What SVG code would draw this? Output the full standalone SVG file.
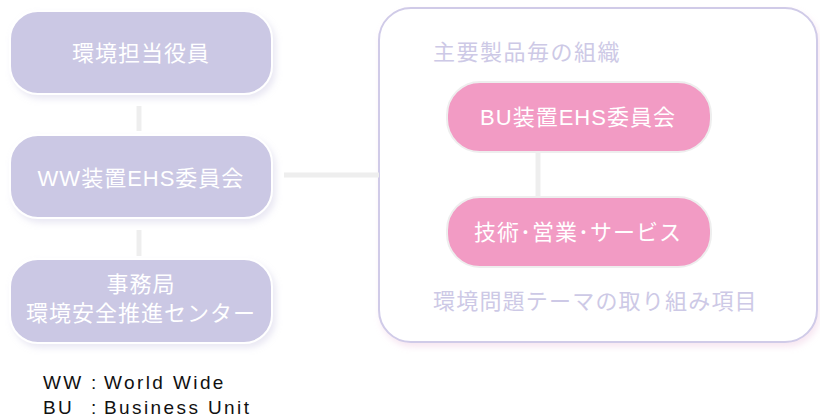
<svg xmlns="http://www.w3.org/2000/svg" width="820" height="419" viewBox="0 0 820 419">
<defs>
<filter id="sh" x="-10%" y="-10%" width="125%" height="135%">
<feDropShadow dx="3" dy="4" stdDeviation="3" flood-color="#b8b4d8" flood-opacity="0.3"/>
</filter>
<filter id="shp" x="-5%" y="-5%" width="115%" height="115%">
<feDropShadow dx="2" dy="4" stdDeviation="3" flood-color="#e8b8d8" flood-opacity="0.35"/>
</filter>
</defs>
<style>
.lav{fill:#cbc8e4;stroke:#ffffff;stroke-width:2}
.pink{fill:#f29bc4;stroke:#eeeeee;stroke-width:2}
.wt{fill:#ffffff;font-family:"Liberation Sans","Noto Sans CJK JP",sans-serif;font-size:22px;letter-spacing:1px;text-anchor:middle;dominant-baseline:central}
.lt{fill:#cdc9e6;font-family:"Liberation Sans","Noto Sans CJK JP",sans-serif;font-size:22px;letter-spacing:1.2px}
.conn{stroke:#eeeeee;stroke-width:5;fill:none}
.leg{fill:#111111;font-family:"Liberation Sans",Arial,sans-serif;font-size:19px;letter-spacing:2.4px}
</style>
<g id="group-box">
<rect x="379" y="8" width="438" height="334" rx="32" fill="#ffffff" stroke="#d0cbe8" stroke-width="2" filter="url(#shp)"/>
<text class="lt" x="433" y="60" style="letter-spacing:1.5px">主要製品毎の組織</text>
<text class="lt" x="433" y="309">環境問題テーマの取り組み項目</text>
</g>
<g id="connectors">
<line class="conn" x1="139" y1="106" x2="139" y2="131"/>
<line class="conn" x1="139" y1="230" x2="139" y2="256"/>
<line class="conn" x1="284" y1="175" x2="379" y2="175"/>
<line class="conn" x1="538" y1="152" x2="538" y2="197"/>
</g>
<g id="n1">
<rect class="lav" x="10" y="11" width="262" height="83" rx="28" filter="url(#sh)"/>
<text class="wt" x="141" y="53">環境担当役員</text>
</g>
<g id="n2">
<rect class="lav" x="10" y="135" width="262" height="83" rx="28" filter="url(#sh)"/>
<text class="wt" x="141" y="178">WW装置EHS委員会</text>
</g>
<g id="n3">
<rect class="lav" x="10" y="259" width="262" height="84" rx="28" filter="url(#sh)"/>
<text class="wt" x="141" y="284">事務局</text>
<text class="wt" x="141" y="313">環境安全推進センター</text>
</g>
<g id="n4">
<rect class="pink" x="447" y="82" width="264" height="70" rx="33"/>
<text class="wt" x="578" y="117">BU装置EHS委員会</text>
</g>
<g id="n5">
<rect class="pink" x="447" y="197" width="264" height="70" rx="33"/>
<text class="wt" x="578" y="232">技術･営業･サービス</text>
</g>
<g id="legend">
<text class="leg" x="43" y="389">WW</text>
<text class="leg" x="91" y="389">:</text>
<text class="leg" x="104" y="389">World Wide</text>
<text class="leg" x="43" y="414">BU</text>
<text class="leg" x="91" y="414">:</text>
<text class="leg" x="104" y="414">Business Unit</text>
</g>
</svg>
